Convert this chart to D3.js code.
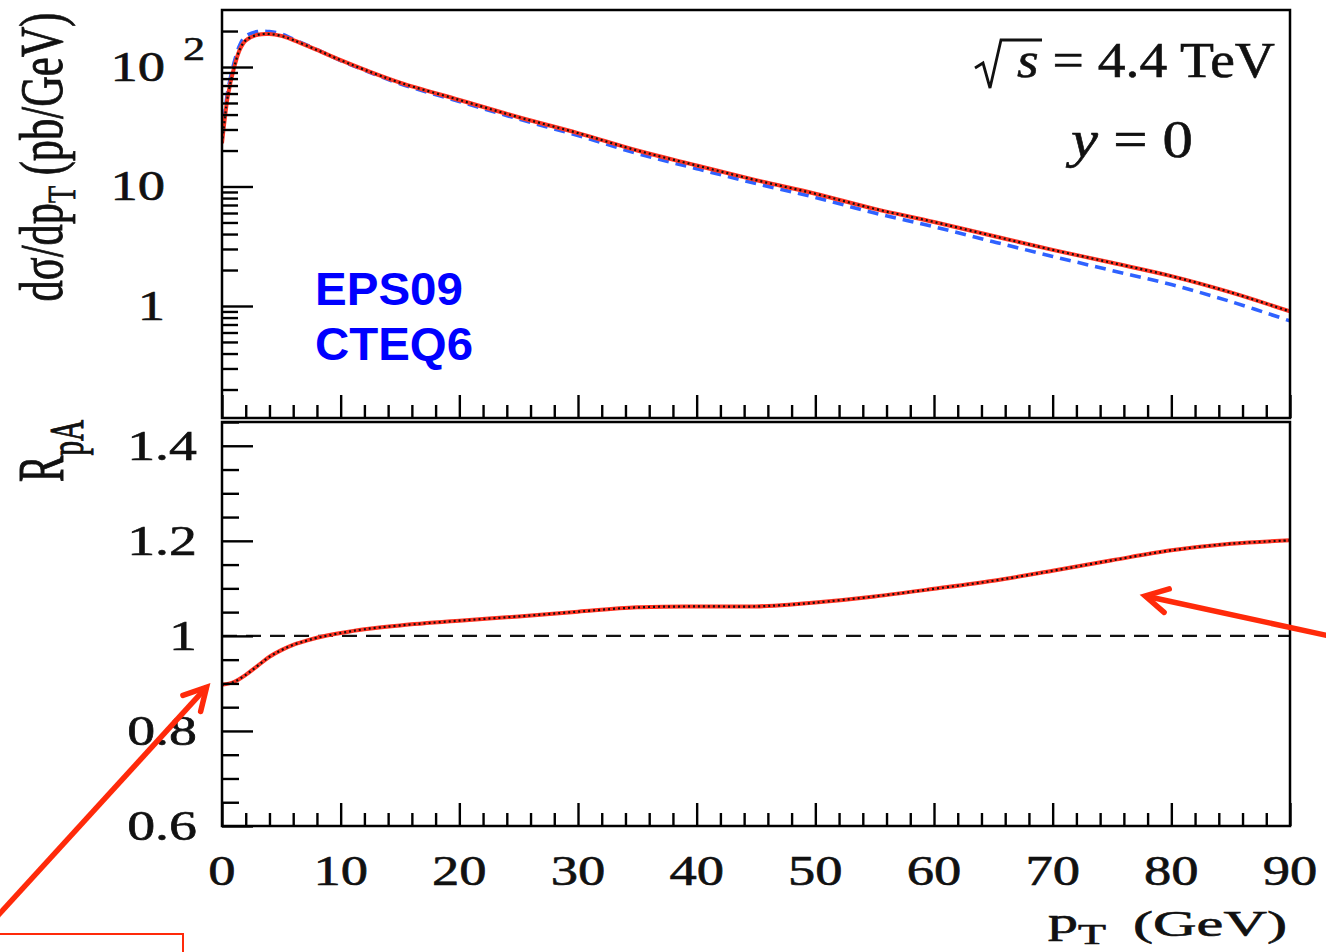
<!DOCTYPE html>
<html>
<head>
<meta charset="utf-8">
<script src="https://cdn.jsdelivr.net/npm/d3@7"></script>
<style>
    body { margin: 0; background: #fff; }
    svg { display: block; }
</style>
</head>
<body>
<div id="chart"></div>
<script>

// ---- data ----
// upper panel: d(sigma)/dpT in pb/GeV
const ptGrid = [0, 0.25, 0.5, 1, 1.5, 2, 3, 4, 5, 6, 8, 10, 12, 15, 20, 25, 30, 35, 40, 45, 50, 55, 60, 65, 70, 75, 80, 85, 90];
const sigmaEps09 = [23, 38, 58, 97, 140, 167, 186, 189, 182, 168, 139, 114, 95, 74, 53, 38, 28, 20, 15, 11.3, 8.7, 6.5, 5.05, 3.85, 2.95, 2.3, 1.78, 1.30, 0.9];
const sigmaCteq6 = [25.5, 42, 64, 107, 153, 181, 198, 198, 189, 171, 140, 113, 94, 72.4, 51.5, 36.7, 26.7, 18.9, 14.1, 10.6, 8.1, 6.0, 4.6, 3.45, 2.6, 1.98, 1.51, 1.09, 0.75];

// lower panel: R_pA
const rpaPt = [0, 1, 2, 3, 4, 5, 6, 7, 8, 10, 12, 15, 20, 25, 30, 35, 40, 45, 48, 50, 55, 60, 65, 70, 75, 80, 85, 90];
const rpaValues = [0.897, 0.903, 0.918, 0.937, 0.956, 0.970, 0.981, 0.989, 0.996, 1.006, 1.014, 1.022, 1.032, 1.041, 1.051, 1.060, 1.062, 1.062, 1.066, 1.070, 1.083, 1.099, 1.116, 1.137, 1.159, 1.180, 1.194, 1.201];

// ticks
const xTickValues = [0, 10, 20, 30, 40, 50, 60, 70, 80, 90];
const xTickLabels = ["0", "10", "20", "30", "40", "50", "60", "70", "80", "90"];
const yTopTickValues = [1, 10, 100];
const yTopTickLabels = ["1", "10", "10"];
const yTopTickExp = ["", "", "2"];
const yBotTickValues = [0.6, 0.8, 1.0, 1.2, 1.4];
const yBotTickLabels = ["0.6", "0.8", "1", "1.2", "1.4"];

// annotation arrows, in (pT, R_pA) coordinates: [tail, tip]
const arrowLow = [[-19.6, 0.392], [-1.3, 0.892]];
const arrowHigh = [[94.2, 0.995], [77.8, 1.084]];

// ---- set up ----
const W = 1326, H = 952;
const serif = "'Liberation Serif', 'Times New Roman', serif";
const sans = "'Liberation Sans', Arial, sans-serif";
const ink = "#111";

const svg = d3.select("#chart").append("svg")
    .attr("width", W)
    .attr("height", H);

const x = d3.scaleLinear().domain([0, 90]).range([222, 1290]);
const yTop = d3.scaleLog().domain([0.1155, 300]).range([418, 10]);
const yBot = d3.scaleLinear().domain([0.6, 1.45]).range([826, 422]);

const defs = svg.append("defs");
defs.append("clipPath").attr("id", "clip-top")
    .append("rect").attr("x", x(0)).attr("y", yTop(300))
    .attr("width", x(90) - x(0)).attr("height", yTop(0.1155) - yTop(300));
defs.append("clipPath").attr("id", "clip-bot")
    .append("rect").attr("x", x(0)).attr("y", yBot(1.45))
    .attr("width", x(90) - x(0)).attr("height", yBot(0.6) - yBot(1.45));

function styleAxis(g) {
    g.select(".domain").remove();
    g.selectAll(".tick line").attr("stroke", "#000").attr("stroke-width", 2.4);
}

// serif label text, a bit heavier like the scanned original
function serifText(g, size) {
    return g.append("text")
        .attr("font-family", serif).attr("font-size", size)
        .attr("fill", ink).attr("stroke", ink).attr("stroke-width", 0.6);
}

// minor ticks
const xMinor = d3.range(0, 91, 2).filter(v => v % 10 !== 0);
const yTopMinor = [0.2, 0.3, 0.4, 0.5, 0.6, 0.7, 0.8, 0.9, 2, 3, 4, 5, 6, 7, 8, 9, 20, 30, 40, 50, 60, 70, 80, 90, 200];
const yBotMinor = d3.range(0.65, 1.46, 0.05).map(v => +v.toFixed(2))
    .filter(v => !yBotTickValues.some(t => Math.abs(t - v) < 1e-6));

// ---- upper panel ----
const topPanel = svg.append("g").attr("class", "top-panel");

// curves
const topLine = vals => d3.line()
    .x((d, i) => x(ptGrid[i]))
    .y(d => yTop(d))
    .curve(d3.curveCatmullRom.alpha(0.5))(vals);

const topCurves = topPanel.append("g").attr("clip-path", "url(#clip-top)");
topCurves.append("path")
    .attr("d", topLine(sigmaCteq6))
    .attr("fill", "none").attr("stroke", "#2f62ff")
    .attr("stroke-width", 3.6).attr("stroke-dasharray", "11,7");
topCurves.append("path")
    .attr("d", topLine(sigmaEps09))
    .attr("fill", "none").attr("stroke", "#ff3322")
    .attr("stroke-width", 4);
topCurves.append("path")
    .attr("d", topLine(sigmaEps09))
    .attr("fill", "none").attr("stroke", ink)
    .attr("stroke-width", 2.2).attr("stroke-dasharray", "2,3");

// axes (ticks inside the frame)
topPanel.append("g").attr("transform", `translate(${x(0)},0)`)
    .call(d3.axisLeft(yTop).tickValues(yTopTickValues).tickSize(-31).tickFormat(""))
    .call(styleAxis);
topPanel.append("g").attr("transform", `translate(${x(0)},0)`)
    .call(d3.axisLeft(yTop).tickValues(yTopMinor).tickSize(-16).tickFormat(""))
    .call(styleAxis);
topPanel.append("g").attr("transform", `translate(0,${yTop(0.1155)})`)
    .call(d3.axisBottom(x).tickValues(xTickValues).tickSize(-23).tickFormat(""))
    .call(styleAxis);
topPanel.append("g").attr("transform", `translate(0,${yTop(0.1155)})`)
    .call(d3.axisBottom(x).tickValues(xMinor).tickSize(-13).tickFormat(""))
    .call(styleAxis);

topPanel.append("rect")
    .attr("x", x(0)).attr("y", yTop(300))
    .attr("width", x(90) - x(0)).attr("height", yTop(0.1155) - yTop(300))
    .attr("fill", "none").attr("stroke", "#000").attr("stroke-width", 2.5);

// tick labels
yTopTickValues.forEach((v, i) => {
    serifText(topPanel, 42)
        .attr("transform", `translate(165,${yTop(v) + 14}) scale(1.3,1)`)
        .attr("text-anchor", "end")
        .text(yTopTickLabels[i]);
    if (yTopTickExp[i]) {
        serifText(topPanel, 34)
            .attr("transform", `translate(183,${yTop(v) - 7}) scale(1.3,1)`)
            .text(yTopTickExp[i]);
    }
});

// y title
const yTitle = serifText(topPanel, 44)
    .attr("transform", "translate(62,157) scale(1.4,1) rotate(-90)")
    .attr("text-anchor", "middle")
    .attr("textLength", 289).attr("lengthAdjust", "spacingAndGlyphs");
yTitle.append("tspan").text("dσ/dp");
yTitle.append("tspan").attr("font-size", 29).attr("dy", 9).text("T");
yTitle.append("tspan").attr("dy", -9).text(" (pb/GeV)");

// energy label with hand-drawn radical
topPanel.append("path")
    .attr("d", "M975,68 L983,63 L990,88 L1001,40 L1042,40")
    .attr("fill", "none").attr("stroke", ink).attr("stroke-width", 2.8)
    .attr("stroke-linejoin", "miter");
const sLabel = serifText(topPanel, 50)
    .attr("x", 1017).attr("y", 77)
    .attr("textLength", 258).attr("lengthAdjust", "spacingAndGlyphs");
sLabel.append("tspan").attr("font-style", "italic").text("s");
sLabel.append("tspan").text(" = 4.4 TeV");

const yLabel = serifText(topPanel, 52)
    .attr("x", 1071).attr("y", 157)
    .attr("textLength", 122).attr("lengthAdjust", "spacingAndGlyphs");
yLabel.append("tspan").attr("font-style", "italic").text("y");
yLabel.append("tspan").text(" = 0");

// legend words
topPanel.append("text")
    .attr("x", 315).attr("y", 305)
    .attr("font-family", sans).attr("font-weight", "bold")
    .attr("font-size", 46).attr("fill", "#0000ff")
    .attr("textLength", 148).attr("lengthAdjust", "spacingAndGlyphs")
    .text("EPS09");
topPanel.append("text")
    .attr("x", 315).attr("y", 360)
    .attr("font-family", sans).attr("font-weight", "bold")
    .attr("font-size", 46).attr("fill", "#0000ff")
    .attr("textLength", 158).attr("lengthAdjust", "spacingAndGlyphs")
    .text("CTEQ6");

// ---- lower panel ----
const botPanel = svg.append("g").attr("class", "bottom-panel");

const botCurves = botPanel.append("g").attr("clip-path", "url(#clip-bot)");
botCurves.append("line")
    .attr("x1", x(0)).attr("x2", x(90))
    .attr("y1", yBot(1)).attr("y2", yBot(1))
    .attr("stroke", ink).attr("stroke-width", 2.2).attr("stroke-dasharray", "15,9");

const botLine = d3.line()
    .x((d, i) => x(rpaPt[i]))
    .y(d => yBot(d))
    .curve(d3.curveCatmullRom.alpha(0.5));
botCurves.append("path")
    .attr("d", botLine(rpaValues))
    .attr("fill", "none").attr("stroke", "#ff3322").attr("stroke-width", 4);
botCurves.append("path")
    .attr("d", botLine(rpaValues))
    .attr("fill", "none").attr("stroke", ink)
    .attr("stroke-width", 2.2).attr("stroke-dasharray", "2,3");

botPanel.append("g").attr("transform", `translate(${x(0)},0)`)
    .call(d3.axisLeft(yBot).tickValues(yBotTickValues).tickSize(-31).tickFormat(""))
    .call(styleAxis);
botPanel.append("g").attr("transform", `translate(${x(0)},0)`)
    .call(d3.axisLeft(yBot).tickValues(yBotMinor).tickSize(-17).tickFormat(""))
    .call(styleAxis);
botPanel.append("g").attr("transform", `translate(0,${yBot(0.6)})`)
    .call(d3.axisBottom(x).tickValues(xTickValues).tickSize(-23).tickFormat(""))
    .call(styleAxis);
botPanel.append("g").attr("transform", `translate(0,${yBot(0.6)})`)
    .call(d3.axisBottom(x).tickValues(xMinor).tickSize(-13).tickFormat(""))
    .call(styleAxis);

botPanel.append("rect")
    .attr("x", x(0)).attr("y", yBot(1.45))
    .attr("width", x(90) - x(0)).attr("height", yBot(0.6) - yBot(1.45))
    .attr("fill", "none").attr("stroke", "#000").attr("stroke-width", 2.5);

yBotTickValues.forEach((v, i) => {
    serifText(botPanel, 42)
        .attr("transform", `translate(197,${yBot(v) + 14}) scale(1.33,1)`)
        .attr("text-anchor", "end")
        .text(yBotTickLabels[i]);
});

xTickValues.forEach((v, i) => {
    serifText(botPanel, 42)
        .attr("transform", `translate(${x(v)},885) scale(1.3,1)`)
        .attr("text-anchor", "middle")
        .text(xTickLabels[i]);
});

// R_pA title
const rTitle = serifText(botPanel, 38)
    .attr("transform", "translate(63,451) scale(1.7,1) rotate(-90)")
    .attr("text-anchor", "middle")
    .attr("textLength", 62).attr("lengthAdjust", "spacingAndGlyphs");
rTitle.append("tspan").text("R");
rTitle.append("tspan").attr("font-size", 28).attr("dy", 12).text("pA");

// x title
serifText(botPanel, 36)
    .attr("x", 1048).attr("y", 933)
    .attr("textLength", 30).attr("lengthAdjust", "spacingAndGlyphs")
    .text("p");
serifText(botPanel, 29)
    .attr("x", 1078).attr("y", 944)
    .attr("textLength", 28).attr("lengthAdjust", "spacingAndGlyphs")
    .text("T");
serifText(botPanel, 36)
    .attr("x", 1133).attr("y", 936)
    .attr("textLength", 154).attr("lengthAdjust", "spacingAndGlyphs")
    .text("(GeV)");

// ---- annotations ----
const ann = svg.append("g").attr("class", "annotations");
const red = "#ff2a0a";

function drawArrow(pts) {
    let [t0, t1] = pts;
    let x0 = x(t0[0]), y0 = yBot(t0[1]);
    let x1 = x(t1[0]), y1 = yBot(t1[1]);
    let ang = Math.atan2(y1 - y0, x1 - x0);
    let len = 25, spread = 0.5;
    ann.append("line")
        .attr("x1", x0).attr("y1", y0).attr("x2", x1).attr("y2", y1)
        .attr("stroke", red).attr("stroke-width", 5.5);
    ann.append("path")
        .attr("d", `M${x1 - len * Math.cos(ang - spread)},${y1 - len * Math.sin(ang - spread)}
                    L${x1},${y1}
                    L${x1 - len * Math.cos(ang + spread)},${y1 - len * Math.sin(ang + spread)}`)
        .attr("fill", "none").attr("stroke", red).attr("stroke-width", 5.5)
        .attr("stroke-linecap", "round").attr("stroke-linejoin", "miter");
}
drawArrow(arrowLow);
drawArrow(arrowHigh);

// box at the bottom-left corner (cut by the picture edge)
ann.append("rect")
    .attr("x", -10).attr("y", 934).attr("width", 193).attr("height", 40)
    .attr("fill", "none").attr("stroke", red).attr("stroke-width", 2);

</script>
</body>
</html>
